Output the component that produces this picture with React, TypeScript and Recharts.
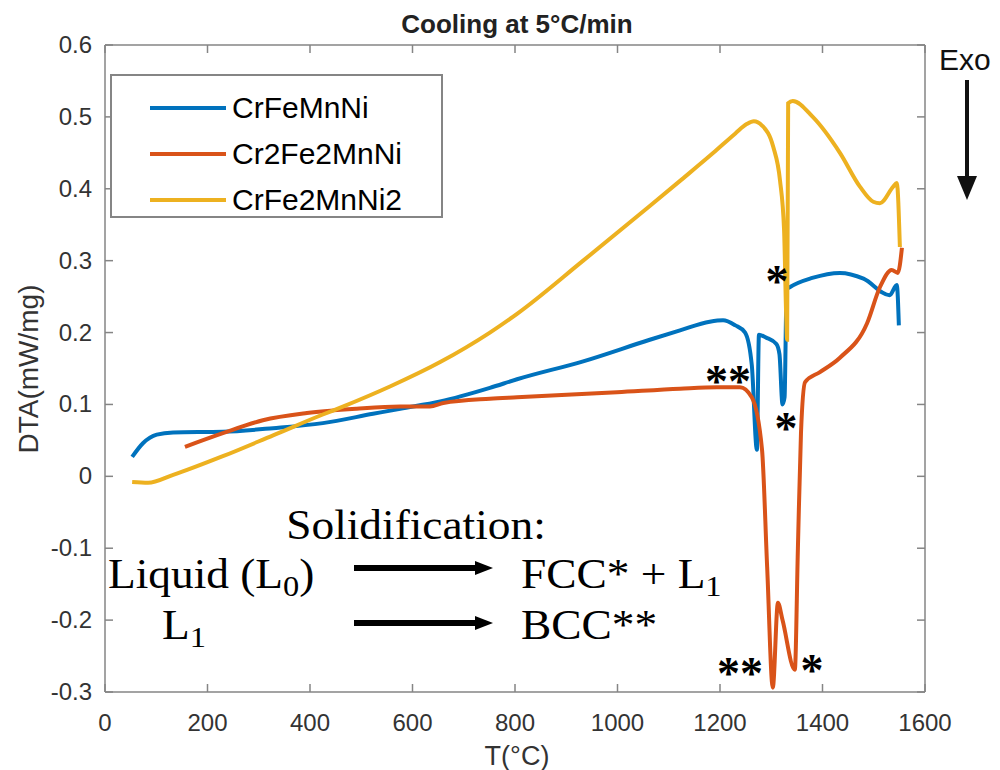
import React from "react";
import { LineChart, Line, XAxis, YAxis, Legend } from "recharts";

// [T (°C), DTA (mW/mg)]
const crFeMnNi: [number, number][] = [
  [53, 0.027], [74, 0.046], [101, 0.058], [133, 0.061], [230, 0.062],
  [328, 0.067], [425, 0.074], [523, 0.087], [576, 0.094], [654, 0.104],
  [751, 0.123], [804, 0.135], [933, 0.16], [1063, 0.19], [1122, 0.203],
  [1180, 0.215], [1206, 0.217], [1230, 0.21], [1249, 0.2], [1262, 0.155],
  [1272, 0.037], [1276, 0.197], [1290, 0.193], [1310, 0.184], [1316, 0.17],
  [1322, 0.1], [1326, 0.11], [1330, 0.26], [1336, 0.263], [1380, 0.276],
  [1434, 0.283], [1480, 0.275], [1531, 0.252], [1545, 0.266], [1549, 0.21],
];

const cr2Fe2MnNi: [number, number][] = [
  [156, 0.041], [230, 0.06], [308, 0.078], [394, 0.088], [491, 0.094],
  [576, 0.097], [634, 0.097], [660, 0.102], [751, 0.108], [804, 0.11],
  [999, 0.117], [1122, 0.122], [1194, 0.124], [1239, 0.124], [1262, 0.11],
  [1282, 0.037], [1292, -0.126], [1303, -0.294], [1313, -0.176], [1322, -0.2],
  [1346, -0.269], [1352, -0.1], [1358, 0.06], [1366, 0.131], [1395, 0.145],
  [1434, 0.165], [1487, 0.213], [1512, 0.263], [1535, 0.287], [1547, 0.283],
  [1555, 0.318],
];

const crFe2MnNi2: [number, number][] = [
  [53, -0.008], [84, -0.009], [133, 0.002], [230, 0.028], [328, 0.057],
  [425, 0.086], [464, 0.097], [556, 0.125], [654, 0.159], [751, 0.2],
  [804, 0.226], [933, 0.3], [1063, 0.376], [1122, 0.411], [1187, 0.45],
  [1230, 0.477], [1252, 0.49], [1266, 0.494], [1282, 0.488], [1304, 0.458],
  [1317, 0.412], [1325, 0.343], [1329, 0.227], [1331, 0.19], [1333, 0.519],
  [1342, 0.522], [1381, 0.5], [1434, 0.45], [1473, 0.403], [1499, 0.382],
  [1512, 0.38], [1538, 0.403], [1545, 0.408], [1551, 0.319],
];

const xTicks = [0, 200, 400, 600, 800, 1000, 1200, 1400, 1600];
const yTicks = [-0.3, -0.2, -0.1, 0, 0.1, 0.2, 0.3, 0.4, 0.5, 0.6];

const series = [
  { name: "CrFeMnNi", points: crFeMnNi, color: "#0072BD" },
  { name: "Cr2Fe2MnNi", points: cr2Fe2MnNi, color: "#D95319" },
  { name: "CrFe2MnNi2", points: crFe2MnNi2, color: "#EDB120" },
];

const AX = "#858585";
const TXT = "#333";
const SANS = "'Liberation Sans', Arial, sans-serif";
const SERIF = "'Liberation Serif', 'Times New Roman', serif";

const fmtY = (v: number) => String(Number(v.toFixed(1)));

const BottomTick = ({ x, y, payload }: any) => (
  <g>
    <line x1={x} x2={x} y1={y} y2={y - 8} stroke={AX} strokeWidth={1.5} />
    <text x={x} y={y + 39} textAnchor="middle" fontSize={24} fill={TXT} fontFamily={SANS}>
      {payload.value}
    </text>
  </g>
);

const TopTick = ({ x, y }: any) => (
  <line x1={x} x2={x} y1={y} y2={y + 8} stroke={AX} strokeWidth={1.5} />
);

const LeftTick = ({ x, y, payload }: any) => (
  <g>
    <line x1={x} x2={x + 8} y1={y} y2={y} stroke={AX} strokeWidth={1.5} />
    <text x={x - 13} y={y + 8} textAnchor="end" fontSize={24} fill={TXT} fontFamily={SANS}>
      {fmtY(payload.value)}
    </text>
  </g>
);

const RightTick = ({ x, y }: any) => (
  <line x1={x} x2={x - 8} y1={y} y2={y} stroke={AX} strokeWidth={1.5} />
);

const LegendBox = () => (
  <div
    style={{
      boxSizing: "border-box",
      width: 333,
      height: 144,
      border: `2px solid ${AX}`,
      background: "#fff",
      padding: "9px 0 0 36px",
      fontFamily: SANS,
      fontSize: 30,
      color: "#000",
    }}
  >
    {series.map((s) => (
      <div key={s.name} style={{ display: "flex", alignItems: "center", height: 46 }}>
        <svg width={80} height={10} style={{ marginRight: 4 }}>
          <line x1={2} x2={78} y1={5} y2={5} stroke={s.color} strokeWidth={4} />
        </svg>
        <span>{s.name}</span>
      </div>
    ))}
  </div>
);

const SX = 1.08;

const Overlay = () => (
  <svg
    width={1000}
    height={770}
    style={{ position: "absolute", left: 0, top: 0, pointerEvents: "none" }}
  >
    <text x={517} y={33} textAnchor="middle" fontSize={26} fontWeight="bold" fill="#222" fontFamily={SANS}>
      Cooling at 5°C/min
    </text>
    <text x={517} y={765} textAnchor="middle" fontSize={27} fill={TXT} fontFamily={SANS}>
      T(°C)
    </text>
    <text
      transform="translate(38,369) rotate(-90)"
      textAnchor="middle"
      fontSize={28}
      fill={TXT}
      fontFamily={SANS}
    >
      DTA(mW/mg)
    </text>

    <text x={939} y={70} fontSize={30} fill="#111" fontFamily={SANS}>
      Exo
    </text>
    <line x1={967} x2={967} y1={80} y2={182} stroke="#111" strokeWidth={4} />
    <polygon points="957,176 977,176 967,200" fill="#111" />

    <g fontFamily={SERIF} fontSize={42} fill="#000">
      <text transform={`translate(416,539) scale(${SX},1)`} textAnchor="middle">
        Solidification:
      </text>
      <text transform={`translate(108,588) scale(${SX},1)`}>
        <tspan>Liquid (L</tspan>
        <tspan fontSize={30} dy={8}>0</tspan>
        <tspan dy={-8}>)</tspan>
      </text>
      <text transform={`translate(521,588) scale(${SX},1)`}>
        <tspan>FCC* + L</tspan>
        <tspan fontSize={30} dy={8}>1</tspan>
      </text>
      <text transform={`translate(162,639) scale(${SX},1)`}>
        <tspan>L</tspan>
        <tspan fontSize={30} dy={8}>1</tspan>
      </text>
      <text transform={`translate(521,639) scale(${SX},1)`}>BCC**</text>
    </g>
    <line x1={354} x2={478} y1={568} y2={568} stroke="#000" strokeWidth={6} />
    <polygon points="475,561 493,568 475,575" fill="#000" />
    <line x1={354} x2={478} y1={623} y2={623} stroke="#000" strokeWidth={6} />
    <polygon points="475,616 493,623 475,630" fill="#000" />

    <g fontFamily={SERIF} fontSize={46} fontWeight="bold" fill="#000" textAnchor="middle">
      <text x={777} y={297}>*</text>
      <text x={728} y={397}>**</text>
      <text x={786} y={444}>*</text>
      <text x={740} y={689}>**</text>
      <text x={812} y={686}>*</text>
    </g>
  </svg>
);

export default function App() {
  return (
    <div style={{ position: "absolute", left: 0, top: 0, width: 1000, height: 770, background: "#fff" }}>
      <LineChart width={1000} height={770} margin={{ top: 40, right: 65, bottom: 48, left: 45 }}>
        <XAxis
          type="number"
          dataKey="t"
          domain={[0, 1600]}
          ticks={xTicks}
          allowDataOverflow
          height={30}
          tickSize={0}
          tickMargin={0}
          tickLine={false}
          axisLine={{ stroke: AX, strokeWidth: 1.5 }}
          tick={<BottomTick />}
          interval={0}
        />
        <XAxis
          xAxisId="top"
          orientation="top"
          type="number"
          dataKey="t"
          domain={[0, 1600]}
          ticks={xTicks}
          allowDataOverflow
          height={5}
          tickSize={0}
          tickMargin={0}
          tickLine={false}
          axisLine={{ stroke: AX, strokeWidth: 1.5 }}
          tick={<TopTick />}
          interval={0}
        />
        <YAxis
          type="number"
          domain={[-0.3, 0.6]}
          ticks={yTicks}
          allowDataOverflow
          width={60}
          tickSize={0}
          tickMargin={0}
          tickLine={false}
          axisLine={{ stroke: AX, strokeWidth: 1.5 }}
          tick={<LeftTick />}
          interval={0}
        />
        <YAxis
          yAxisId="right"
          orientation="right"
          type="number"
          domain={[-0.3, 0.6]}
          ticks={yTicks}
          allowDataOverflow
          width={10}
          tickSize={0}
          tickMargin={0}
          tickLine={false}
          axisLine={{ stroke: AX, strokeWidth: 1.5 }}
          tick={<RightTick />}
          interval={0}
        />
        <Legend
          layout="vertical"
          align="center"
          verticalAlign="middle"
          content={() => <LegendBox />}
          wrapperStyle={{ left: 110, top: 74, width: 333, height: 144 }}
        />
        {series.map((s) => (
          <Line
            key={s.name}
            name={s.name}
            data={s.points.map(([t, v]) => ({ t, v }))}
            dataKey="v"
            type="monotone"
            stroke={s.color}
            strokeWidth={4}
            dot={false}
            activeDot={false}
            isAnimationActive={false}
          />
        ))}
      </LineChart>
      <Overlay />
    </div>
  );
}
